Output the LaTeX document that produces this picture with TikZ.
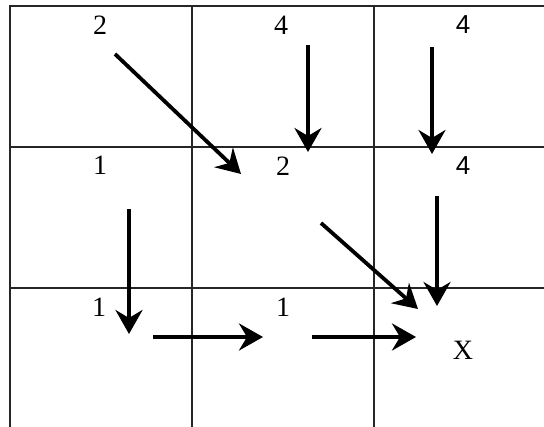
\documentclass[tikz,border=0pt]{standalone}
\usepackage{fontspec}
\setmainfont{Liberation Serif}
\newfontfamily\sansnum{Liberation Sans}
\usetikzlibrary{arrows.meta}
\begin{document}
\begin{tikzpicture}[x=1pt,y=-1pt,
  gridline/.style={line width=1.4pt,draw=black!85},
  flow/.style={line width=3.8pt,-{Stealth[length=24pt,width=27pt,inset=8pt]}},
  val/.style={font=\fontsize{28}{32}\selectfont,inner sep=0pt}]
\useasboundingbox (0,0) rectangle (544,427);
% grid
\draw[gridline] (544,6) -- (10,6) -- (10,427);
\draw[gridline] (10,147) -- (544,147);
\draw[gridline] (10,288) -- (544,288);
\draw[gridline] (192,6) -- (192,427);
\draw[gridline] (374,6) -- (374,427);
% values
\node[val] (v11) at (100,25) {2};
\node[val] (v12) at (281,25) {4};
\node[val,font=\fontsize{26}{30}\sansnum] (v13) at (463,25) {4};
\node[val] (v21) at (100,165) {1};
\node[val] (v22) at (283,166) {2};
\node[val,font=\fontsize{26}{30}\sansnum] (v23) at (463,166) {4};
\node[val] (v31) at (99,307) {1};
\node[val] (v32) at (283,307) {1};
\node[val] (v33) at (463,350) {X};
% arrow endpoints
\coordinate (a1s) at (115,54);  \coordinate (a1e) at (241,174);
\coordinate (a2s) at (308,45);  \coordinate (a2e) at (308,152);
\coordinate (a3s) at (432,47);  \coordinate (a3e) at (432,154);
\coordinate (a4s) at (437,196); \coordinate (a4e) at (437,306);
\coordinate (a5s) at (321,223); \coordinate (a5e) at (418,309);
\coordinate (a6s) at (129,209); \coordinate (a6e) at (129,334);
\coordinate (a7s) at (153,337); \coordinate (a7e) at (263,337);
\coordinate (a8s) at (312,337); \coordinate (a8e) at (416,337);
\draw[flow] (a1s) -- (a1e);
\draw[flow] (a2s) -- (a2e);
\draw[flow] (a3s) -- (a3e);
\draw[flow] (a4s) -- (a4e);
\draw[flow] (a5s) -- (a5e);
\draw[flow] (a6s) -- (a6e);
\draw[flow] (a7s) -- (a7e);
\draw[flow] (a8s) -- (a8e);
\end{tikzpicture}
\end{document}
